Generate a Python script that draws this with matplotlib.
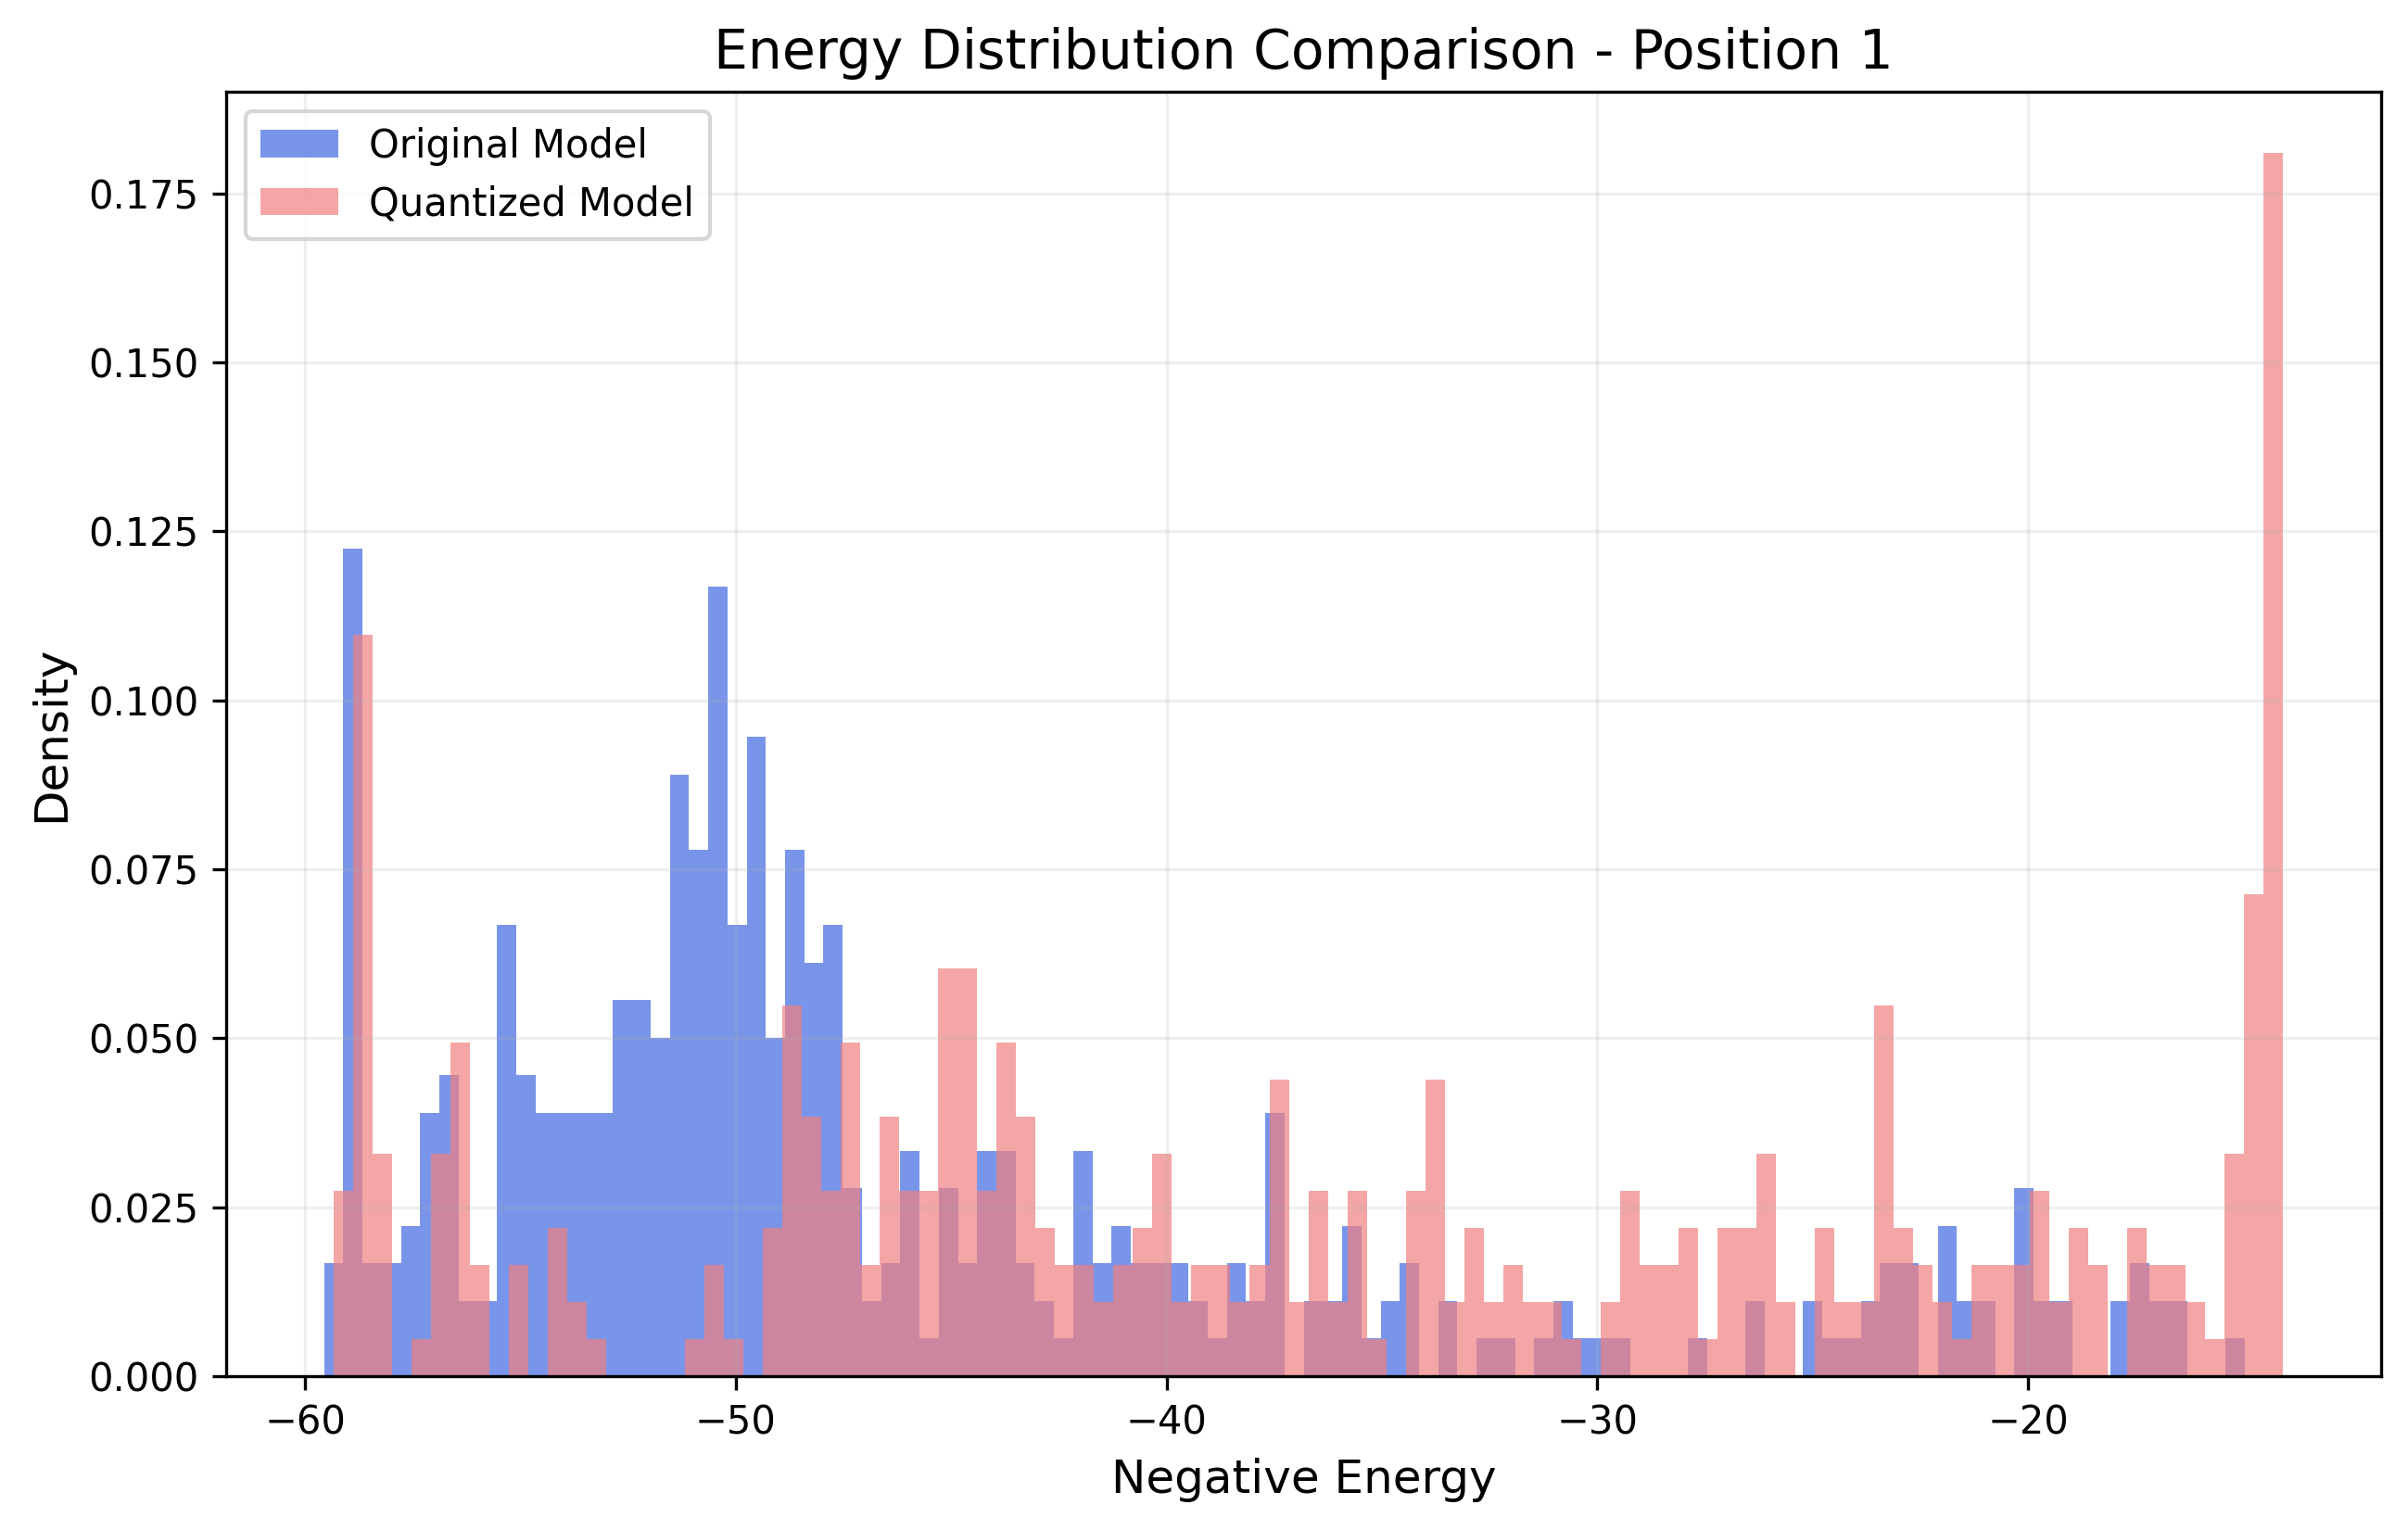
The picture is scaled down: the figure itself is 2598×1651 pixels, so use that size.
import numpy as np
import matplotlib
matplotlib.use("Agg")
from matplotlib import pyplot as plt

# Histogram bin range of each model (100 bins each)
orig_range = (-59.557, -14.966)
quant_range = (-59.335, -14.083)

# Counts per bin (density = count / (total * bin width))
orig_counts = [
    3, 22, 3, 3, 4, 7, 8, 2, 2, 12, 8, 7, 7, 7, 7, 10, 10, 9, 16, 14,
    21, 12, 17, 9, 14, 11, 12, 5, 2, 3, 6, 1, 5, 3, 6, 6, 3, 2, 1, 6,
    3, 4, 3, 3, 3, 2, 1, 3, 2, 7, 0, 2, 2, 4, 1, 2, 3, 0, 2, 0,
    1, 1, 0, 1, 2, 1, 1, 1, 0, 0, 0, 1, 0, 0, 2, 0, 0, 2, 1, 1,
    2, 3, 3, 0, 4, 2, 2, 0, 5, 2, 2, 0, 0, 2, 3, 2, 2, 0, 0, 1,
]
quant_counts = [
    5, 20, 6, 0, 1, 6, 9, 3, 0, 3, 0, 4, 2, 1, 0, 0, 0, 0, 1, 3,
    1, 0, 4, 10, 7, 5, 9, 3, 7, 5, 5, 11, 11, 5, 9, 7, 4, 3, 3, 2,
    3, 4, 6, 2, 3, 3, 2, 3, 8, 2, 5, 2, 5, 1, 0, 5, 8, 2, 4, 2,
    3, 2, 2, 1, 0, 2, 5, 3, 3, 4, 1, 4, 4, 6, 2, 0, 4, 2, 2, 10,
    4, 3, 2, 1, 3, 3, 3, 5, 2, 4, 3, 0, 4, 3, 3, 2, 1, 6, 13, 33,
]


def bin_layout(value_range, n_bins):
    """Return bin edges and centres for a histogram range."""
    edges = np.linspace(value_range[0], value_range[1], n_bins + 1)
    centres = (edges[:-1] + edges[1:]) / 2
    return edges, centres


def main():
    fig = plt.figure(figsize=(2598 / 300, 1651 / 300), dpi=300)
    ax = fig.add_axes([0.0939, 0.1005, 0.8949, 0.8395])

    edges, centres = bin_layout(orig_range, len(orig_counts))
    ax.hist(centres, bins=edges, weights=orig_counts, density=True,
            alpha=0.7, color='royalblue', label='Original Model')

    edges, centres = bin_layout(quant_range, len(quant_counts))
    ax.hist(centres, bins=edges, weights=quant_counts, density=True,
            alpha=0.7, color='lightcoral', label='Quantized Model')

    # Format plot.
    ax.set_title('Energy Distribution Comparison - Position 1', fontsize=14)
    ax.set_xlabel('Negative Energy', fontsize=12)
    ax.set_ylabel('Density', fontsize=12)
    ax.legend(loc='upper left')
    ax.grid(True, alpha=0.2)

    fig.savefig('out.png', dpi=300)


if __name__ == "__main__":
    main()
